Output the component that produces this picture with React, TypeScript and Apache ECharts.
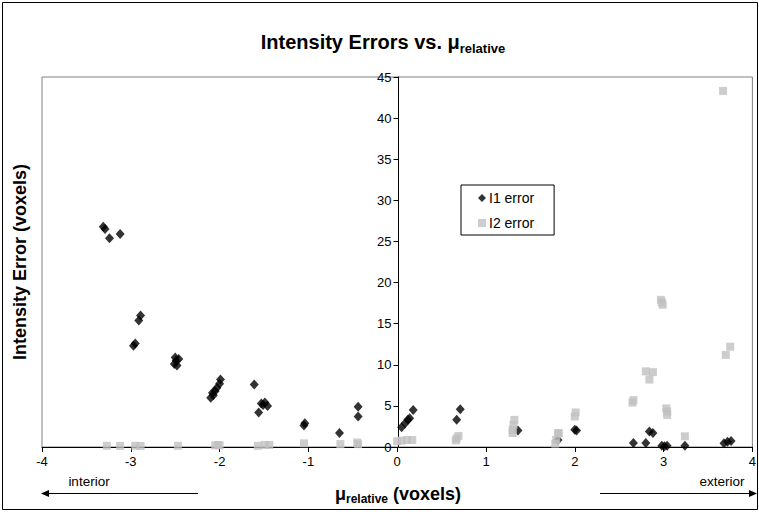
import React, { useEffect, useRef } from "react";
import * as echarts from "echarts";

const i1Mu = [-3.31, -3.29, -3.24, -3.12, -2.89, -2.91, -2.95, -2.97, -2.5, -2.49, -2.51, -2.48, -2.46, -2.1, -2.07, -2.08, -2.05, -2.03, -2.0, -1.99, -1.61, -1.56, -1.51, -1.49, -1.46, -1.53, -1.05, -1.04, -0.65, -0.44, -0.44, 0.05, 0.09, 0.12, 0.14, 0.18, 0.67, 0.71, 1.36, 1.81, 2.0, 2.02, 2.66, 2.8, 2.84, 2.88, 2.98, 3.04, 3.01, 3.24, 3.68, 3.72, 3.76];
const i1Err = [26.8, 26.5, 25.4, 25.9, 16.0, 15.4, 12.6, 12.3, 10.9, 10.5, 10.1, 9.9, 10.7, 6.0, 6.3, 6.6, 6.8, 7.2, 7.7, 8.2, 7.6, 4.2, 5.1, 5.4, 5.0, 5.3, 2.6, 2.9, 1.7, 4.9, 3.7, 2.4, 2.9, 3.3, 3.5, 4.5, 3.3, 4.6, 2.0, 0.85, 2.1, 2.0, 0.5, 0.5, 1.9, 1.7, 0.15, 0.15, 0.1, 0.15, 0.45, 0.65, 0.73];

const i2Mu = [-3.27, -3.12, -2.95, -2.89, -2.47, -2.05, -2.0, -2.02, -1.57, -1.49, -1.44, -1.05, -0.64, -0.45, -0.44, 0.0, 0.05, 0.11, 0.17, 0.66, 0.67, 0.69, 1.3, 1.3, 1.31, 1.32, 1.78, 1.79, 1.81, 1.82, 2.0, 2.01, 2.65, 2.66, 2.8, 2.88, 2.84, 2.97, 2.98, 2.99, 3.03, 3.04, 3.04, 3.24, 3.67, 3.7, 3.75];
const i2Err = [0.15, 0.12, 0.15, 0.12, 0.15, 0.2, 0.2, 0.25, 0.15, 0.25, 0.25, 0.45, 0.35, 0.55, 0.35, 0.7, 0.77, 0.85, 0.85, 0.8, 1.05, 1.35, 1.7, 2.1, 2.7, 3.3, 0.4, 0.85, 1.65, 1.7, 3.7, 4.2, 5.4, 5.7, 9.2, 9.1, 8.2, 17.9, 17.6, 17.3, 4.7, 4.3, 3.9, 1.3, 43.3, 11.2, 12.2];

const seriesNames = ["I1 error", "I2 error"];
const xTicks = { min: -4, max: 4, step: 1 };
const yTicks = { min: 0, max: 45, step: 5 };

const FONT = "Arial, 'Liberation Sans', sans-serif";

const GRID_LEFT = 42;
const GRID_RIGHT = 4;
const GRID_TOP = 77;
const GRID_BOTTOM = 65;
const CHART_W = 759;
const CHART_H = 512;

export default function App() {
  const ref = useRef<HTMLDivElement>(null);
  useEffect(() => {
    if (!ref.current) return;
    const chart = echarts.init(ref.current, null, { renderer: "svg" });
    const pairs = (xs: number[], ys: number[]) => xs.map((x, i) => [x, ys[i]]);
    const plotW = CHART_W - GRID_LEFT - GRID_RIGHT;
    const zeroOffset = ((0 - xTicks.min) / (xTicks.max - xTicks.min)) * plotW;
    const plotMidY = (GRID_TOP + (CHART_H - GRID_BOTTOM)) / 2;
    chart.setOption({
      animation: false,
      backgroundColor: "#ffffff",
      textStyle: { fontFamily: FONT },
      grid: {
        left: GRID_LEFT,
        top: GRID_TOP,
        right: GRID_RIGHT,
        bottom: GRID_BOTTOM,
        show: true,
        borderColor: "#808080",
        borderWidth: 1,
        backgroundColor: "transparent",
      },
      legend: {
        orient: "vertical",
        left: 461,
        top: 185,
        padding: [6, 20, 5, 17],
        itemGap: 11,
        itemWidth: 8,
        itemHeight: 8,
        borderColor: "#000",
        borderWidth: 1,
        backgroundColor: "#fff",
        textStyle: { fontFamily: FONT, fontSize: 14, lineHeight: 14, color: "#000", padding: [0, 0, 0, -2] },
        data: [
          { name: seriesNames[0], icon: "diamond" },
          { name: seriesNames[1], icon: "rect" },
        ],
      },
      xAxis: {
        type: "value",
        min: xTicks.min,
        max: xTicks.max,
        interval: xTicks.step,
        axisLine: { show: true, onZero: false, lineStyle: { color: "#000", width: 1 } },
        axisTick: { show: true, inside: false, length: 5, lineStyle: { color: "#000" } },
        axisLabel: { fontFamily: FONT, fontSize: 13, color: "#000", margin: 8 },
        splitLine: { show: false },
      },
      yAxis: {
        type: "value",
        min: yTicks.min,
        max: yTicks.max,
        interval: yTicks.step,
        position: "left",
        offset: -zeroOffset,
        axisLine: { show: true, onZero: false, lineStyle: { color: "#000", width: 1 } },
        axisTick: { show: true, inside: false, length: 5, lineStyle: { color: "#000" } },
        axisLabel: { fontFamily: FONT, fontSize: 13, color: "#000", margin: 7 },
        splitLine: { show: false },
      },
      series: [
        {
          name: seriesNames[0],
          type: "scatter",
          symbol: "diamond",
          symbolSize: [9, 10],
          itemStyle: { color: "#000000" },
          data: pairs(i1Mu, i1Err),
          z: 2,
        },
        {
          name: seriesNames[1],
          type: "scatter",
          symbol: "rect",
          symbolSize: 8,
          itemStyle: { color: "#c0c0c0" },
          data: pairs(i2Mu, i2Err),
          z: 3,
        },
      ],
      graphic: [
        {
          type: "rect",
          shape: { x: 2.5, y: 2.5, width: 755, height: 507 },
          style: { fill: "none", stroke: "#000", lineWidth: 1 },
          silent: true,
        },
        {
          type: "text",
          x: 383,
          y: 42,
          style: {
            text: "{a|Intensity Errors vs. μ}{b|relative}",
            align: "center",
            verticalAlign: "middle",
            rich: {
              a: { fontFamily: FONT, fontSize: 20, fontWeight: "bold", fill: "#000", lineHeight: 26, verticalAlign: "middle" },
              b: { fontFamily: FONT, fontSize: 13, fontWeight: "bold", fill: "#000", lineHeight: 26, verticalAlign: "bottom" },
            },
          },
        },
        {
          type: "text",
          x: 398,
          y: 494,
          style: {
            text: "{a|μ}{b|relative}{a| (voxels)}",
            align: "center",
            verticalAlign: "middle",
            rich: {
              a: { fontFamily: FONT, fontSize: 18, fontWeight: "bold", fill: "#000", lineHeight: 22, verticalAlign: "middle" },
              b: { fontFamily: FONT, fontSize: 12, fontWeight: "bold", fill: "#000", lineHeight: 22, verticalAlign: "bottom" },
            },
          },
        },
        {
          type: "text",
          x: 20,
          y: plotMidY,
          rotation: Math.PI / 2,
          style: {
            text: "Intensity Error (voxels)",
            fontFamily: FONT,
            fontSize: 18,
            fontWeight: "bold",
            fill: "#000",
            align: "center",
            verticalAlign: "middle",
          },
        },
        {
          type: "text",
          x: 89,
          y: 481,
          style: { text: "interior", fontFamily: FONT, fontSize: 13.5, fill: "#000", align: "center", verticalAlign: "middle" },
        },
        {
          type: "text",
          x: 722,
          y: 481,
          style: { text: "exterior", fontFamily: FONT, fontSize: 13.5, fill: "#000", align: "center", verticalAlign: "middle" },
        },
        {
          type: "line",
          shape: { x1: 46, y1: 493.5, x2: 198, y2: 493.5 },
          style: { stroke: "#000", lineWidth: 1 },
        },
        {
          type: "polygon",
          shape: { points: [[41, 493.5], [49, 490], [49, 497]] },
          style: { fill: "#000" },
        },
        {
          type: "line",
          shape: { x1: 600, y1: 493.5, x2: 752, y2: 493.5 },
          style: { stroke: "#000", lineWidth: 1 },
        },
        {
          type: "polygon",
          shape: { points: [[757, 493.5], [749, 490], [749, 497]] },
          style: { fill: "#000" },
        },
      ],
    });
    return () => chart.dispose();
  }, []);
  return <div ref={ref} style={{ width: 759, height: 512, position: "absolute", left: 0, top: 0 }} />;
}
